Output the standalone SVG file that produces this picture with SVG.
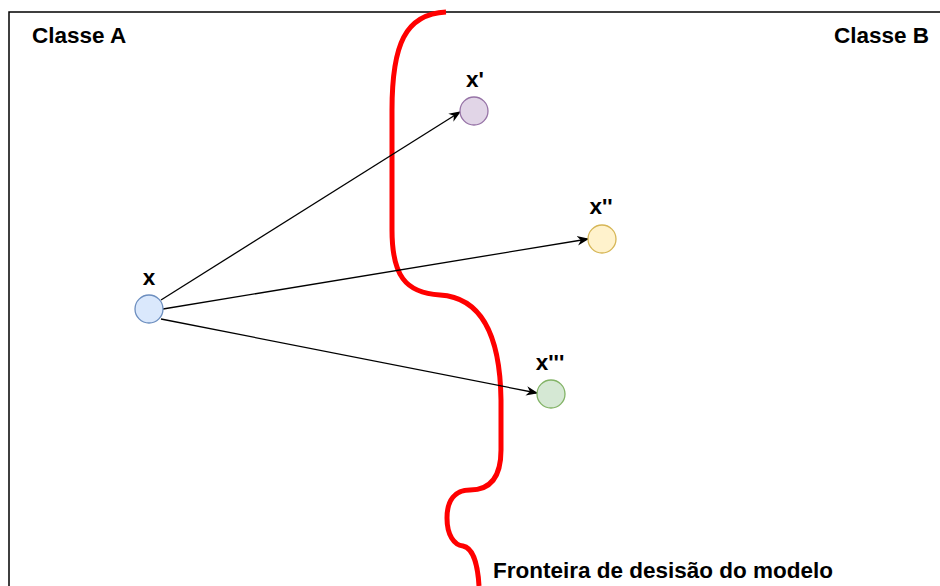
<svg xmlns="http://www.w3.org/2000/svg" width="940" height="586" viewBox="0 0 940 586">
  <defs>
    <style>
      .lbl { font-family: "Liberation Sans", Arial, sans-serif; font-weight: bold; font-size: 22.5px; fill: #000; }
      .edge { stroke: #000; stroke-width: 1.3; fill: none; }
      .pt { stroke-width: 1.3; }
    </style>
    <marker id="arrow" viewBox="0 0 10 10" refX="9" refY="5" markerWidth="12" markerHeight="12" markerUnits="userSpaceOnUse" orient="auto">
      <path d="M0,1 L10,5 L0,9 L3,5 Z" fill="#000"/>
    </marker>
  </defs>
  <rect width="940" height="586" fill="#fff"/>

  <!-- Feature space frame -->
  <g id="space">
    <rect x="9" y="12" width="960" height="600" fill="none" stroke="#000" stroke-width="1.5"/>
    <text class="lbl" x="32" y="43">Classe A</text>
    <text class="lbl" x="929" y="43" text-anchor="end">Classe B</text>
  </g>

  <!-- Decision boundary -->
  <g id="boundary">
    <path d="M446,12 C405,14 392,45 392,110 L392,230 C392,275 405,293 440,295 C472,297 500,320 501,400 L501,450 C501,475 492,490 470,490 C455,490 447,500 447,518 C447,535 454,545 463,546 C474,548 478,568 479,586" fill="none" stroke="#ff0000" stroke-width="5"/>
    <text class="lbl" x="493" y="578">Fronteira de desisão do modelo</text>
  </g>

  <!-- Connectors -->
  <g id="connectors">
    <line class="edge" x1="161" y1="300" x2="460" y2="112" marker-end="url(#arrow)"/>
    <line class="edge" x1="163" y1="309" x2="588" y2="239" marker-end="url(#arrow)"/>
    <line class="edge" x1="161" y1="319" x2="537" y2="393" marker-end="url(#arrow)"/>
  </g>

  <!-- Points -->
  <g id="x">
    <circle class="pt" cx="149" cy="309" r="14" fill="#dae8fc" stroke="#6c8ebf"/>
    <text class="lbl" x="149" y="285" text-anchor="middle">x</text>
  </g>
  <g id="x1">
    <circle class="pt" cx="474" cy="111" r="14" fill="#e1d5e7" stroke="#9673a6"/>
    <text class="lbl" x="475" y="87" text-anchor="middle">x'</text>
  </g>
  <g id="x2">
    <circle class="pt" cx="602" cy="239" r="14" fill="#fff2cc" stroke="#d6b656"/>
    <text class="lbl" x="601" y="214" text-anchor="middle">x''</text>
  </g>
  <g id="x3">
    <circle class="pt" cx="551" cy="394" r="14" fill="#d5e8d4" stroke="#82b366"/>
    <text class="lbl" x="550" y="370" text-anchor="middle">x'''</text>
  </g>
</svg>
